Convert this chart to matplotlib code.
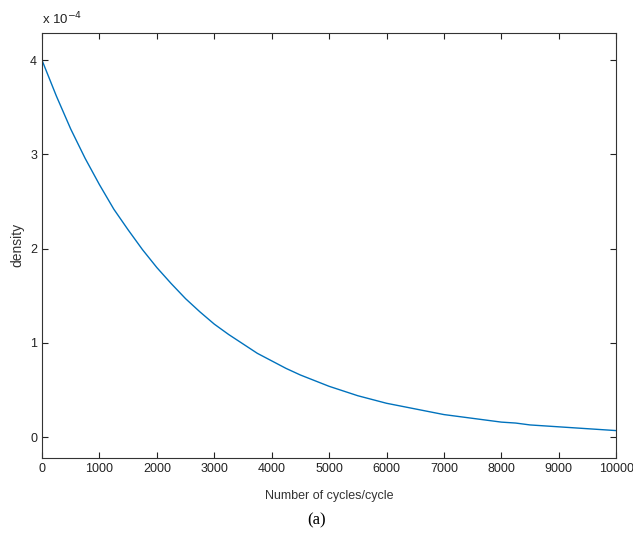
import matplotlib
matplotlib.use('Agg')
import matplotlib.pyplot as plt

# cycles, density in units of 1e-4
cycles = [0, 250, 500, 750, 1000, 1250, 1500, 1750, 2000, 2250, 2500,
          2750, 3000, 3250, 3500, 3750, 4000, 4250, 4500, 4750, 5000,
          5250, 5500, 5750, 6000, 6250, 6500, 6750, 7000, 7250, 7500,
          7750, 8000, 8250, 8500, 8750, 9000, 9250, 9500, 9750, 10000]
density = [4.00, 3.62, 3.27, 2.96, 2.68, 2.42, 2.20, 1.99, 1.80, 1.63, 1.47,
           1.33, 1.20, 1.09, 0.99, 0.89, 0.81, 0.73, 0.66, 0.60, 0.54,
           0.49, 0.44, 0.40, 0.36, 0.33, 0.30, 0.27, 0.24, 0.22, 0.20,
           0.18, 0.16, 0.15, 0.13, 0.12, 0.11, 0.10, 0.09, 0.08, 0.07]
xticks = [0, 1000, 2000, 3000, 4000, 5000, 6000, 7000, 8000, 9000, 10000]
yticks = [0, 1, 2, 3, 4]

plt.rcParams['font.family'] = ['Liberation Sans', 'DejaVu Sans']

fig = plt.figure(figsize=(6.33, 5.4), dpi=100)
ax = fig.add_axes([0.0664, 0.152, 0.907, 0.787])

ax.plot(cycles, density, color='#0072BD', linewidth=1.0)

ax.set_xlim(0, 10000)
ax.set_ylim(-0.22, 4.29)
ax.set_xticks(xticks)
ax.set_yticks(yticks)
ax.tick_params(direction='in', top=True, right=True, length=4, width=0.8,
               labelsize=9, colors='#222222')
for s in ax.spines.values():
    s.set_linewidth(0.8)
    s.set_color('#333333')

ax.set_xlabel('Number of cycles/cycle', fontsize=9, color='#333333', labelpad=11)
ax.set_ylabel('density', fontsize=10, color='#333333', labelpad=4)

fig.text(0.066, 0.955, r'x 10$^{-4}$', fontsize=9.5, color='#222222', ha='left')
fig.text(0.5, 0.037, '(a)', fontsize=12, family='Liberation Serif', ha='center',
         va='center')

fig.savefig('out.png', dpi=100)
